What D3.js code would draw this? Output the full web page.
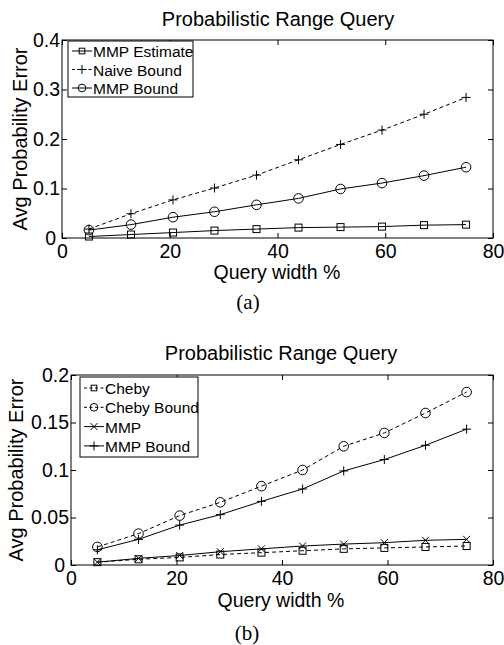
<!DOCTYPE html>
<html>
<head>
<meta charset="utf-8">
<script src="https://cdn.jsdelivr.net/npm/d3@7"></script>
<style>
  body { margin: 0; background: #fff; }
  svg text { fill: #000; }
</style>
</head>
<body>
<svg id="chart" width="504" height="645"></svg>
<script>
const SVG = d3.select('#chart');
const SANS = '"Liberation Sans", Arial, Helvetica, sans-serif';
const SERIF = '"Liberation Serif", "Times New Roman", serif';

// DATA
const queryWidth = [5, 12.8, 20.6, 28.3, 36.1, 43.9, 51.7, 59.4, 67.2, 75];

const mmpEstimate = [0.003, 0.007, 0.011, 0.015, 0.018, 0.021, 0.022, 0.023, 0.026, 0.027];
const naiveBound = [0.018, 0.049, 0.077, 0.101, 0.127, 0.158, 0.189, 0.218, 0.250, 0.284];
const mmpBound = [0.016, 0.027, 0.042, 0.053, 0.067, 0.080, 0.099, 0.111, 0.126, 0.143];

const cheby = [0.003, 0.006, 0.008, 0.011, 0.013, 0.015, 0.017, 0.018, 0.019, 0.020];
const chebyBound = [0.019, 0.033, 0.052, 0.066, 0.083, 0.100, 0.125, 0.139, 0.160, 0.182];
const mmp = [0.003, 0.007, 0.010, 0.014, 0.017, 0.020, 0.022, 0.0235, 0.026, 0.027];

const xTicks = [0, 20, 40, 60, 80];
const yTicksA = [0, 0.1, 0.2, 0.3, 0.4];
const yTicksB = [0, 0.05, 0.1, 0.15, 0.2];

const TITLE = 'Probabilistic Range Query';
const X_LABEL = 'Query width %';
const Y_LABEL = 'Avg Probability Error';

// FUNCTIONS

function drawMarker(g, type, x, y, s = 1) {
  if (type === 'square') {
    g.append('rect').attr('x', x - 3.5 * s).attr('y', y - 3.5 * s).attr('width', 7 * s).attr('height', 7 * s)
      .attr('fill', 'none').attr('stroke', '#000');
  } else if (type === 'circle') {
    g.append('circle').attr('cx', x).attr('cy', y).attr('r', 4.8 * s)
      .attr('fill', 'none').attr('stroke', '#000');
  } else if (type === 'plus') {
    g.append('path').attr('d', `M${x - 4.5},${y}H${x + 4.5}M${x},${y - 4.5}V${y + 4.5}`)
      .attr('stroke', '#000');
  } else if (type === 'cross') {
    g.append('path').attr('d', `M${x - 3.5},${y - 3.5}L${x + 3.5},${y + 3.5}M${x - 3.5},${y + 3.5}L${x + 3.5},${y - 3.5}`)
      .attr('stroke', '#000');
  }
}

function drawPanel(p) {
  const g = SVG.append('g');
  const x = d3.scaleLinear().domain([0, 80]).range([p.left, p.right]);
  const y = d3.scaleLinear().domain(p.yDomain).range([p.bottom, p.top]);

  g.append('text').attr('x', p.titleX).attr('y', p.titleY)
    .attr('text-anchor', 'middle').style('font-family', SANS).style('font-size', '20px').text(TITLE);

  // axes with inward ticks
  g.append('g').attr('transform', `translate(0,${p.bottom})`)
    .call(d3.axisBottom(x).tickValues(xTicks).tickFormat(d3.format('d'))
      .tickSizeInner(-5).tickSizeOuter(0).tickPadding(6));
  const yAxis = g.append('g').attr('transform', `translate(${p.left},0)`)
    .call(d3.axisLeft(y).tickValues(p.yTicks).tickFormat(d => d === 0 ? '0' : String(d))
      .tickSizeInner(-5).tickSizeOuter(0).tickPadding(2));
  g.append('g').attr('transform', `translate(0,${p.top})`)
    .call(d3.axisTop(x).tickValues(xTicks).tickFormat('').tickSizeInner(-5).tickSizeOuter(0));
  g.append('g').attr('transform', `translate(${p.right},0)`)
    .call(d3.axisRight(y).tickValues(p.yTicks).tickFormat('').tickSizeInner(-5).tickSizeOuter(0));

  g.selectAll('.domain').remove();
  g.selectAll('.tick line').attr('stroke', '#000');
  g.selectAll('.tick text').style('font-size', '19.5px').style('font-family', SANS);
  // keep the corner zeros apart
  yAxis.selectAll('.tick text').filter(d => d === 0).attr('dx', -4);

  g.append('rect').attr('x', p.left).attr('y', p.top)
    .attr('width', p.right - p.left).attr('height', p.bottom - p.top)
    .attr('fill', 'none').attr('stroke', '#000');

  g.append('text').attr('x', p.xLabelX).attr('y', p.xLabelY)
    .attr('text-anchor', 'middle').style('font-family', SANS).style('font-size', '19.5px').text(X_LABEL);
  g.append('text')
    .attr('transform', `translate(${p.yLabelX},${(p.top + p.bottom) / 2}) rotate(-90)`)
    .attr('text-anchor', 'middle').style('font-family', SANS).style('font-size', '20px').text(Y_LABEL);

  // series
  const line = d3.line().x((d, i) => x(queryWidth[i])).y(d => y(d));
  p.series.forEach(s => {
    g.append('path').datum(s.values).attr('d', line)
      .attr('fill', 'none').attr('stroke', '#000').attr('stroke-width', 1)
      .attr('stroke-dasharray', s.dashed ? '4,3' : null);
    s.values.forEach((v, i) => drawMarker(g, s.marker, x(queryWidth[i]), y(v)));
  });

  // legend
  const lg = g.append('g');
  lg.append('rect').attr('x', p.legend.x).attr('y', p.legend.y)
    .attr('width', p.legend.w).attr('height', p.legend.h)
    .attr('fill', '#fff').attr('stroke', '#000');
  p.series.forEach((s, i) => {
    const cy = p.legend.y + p.legend.first + i * p.legend.step;
    const x0 = p.legend.x + 4;
    lg.append('line').attr('x1', x0).attr('x2', x0 + 20).attr('y1', cy).attr('y2', cy)
      .attr('stroke', '#000').attr('stroke-dasharray', s.dashed ? '3,2.5' : null);
    drawMarker(lg, s.marker, x0 + 10, cy, 0.8);
    lg.append('text').attr('x', x0 + 21).attr('y', cy + 6)
      .style('font-family', SANS).style('font-size', '15.5px').text(s.name);
  });

  g.append('text').attr('x', p.captionX).attr('y', p.captionY)
    .attr('text-anchor', 'middle').style('font-family', SERIF).style('font-size', '21px').text(p.caption);
}

drawPanel({
  left: 62, right: 493, top: 40, bottom: 238,
  yDomain: [0, 0.4], yTicks: yTicksA, yLabelX: 27,
  titleX: 278, titleY: 26, xLabelX: 277, xLabelY: 279,
  legend: { x: 68, y: 41, w: 125, h: 56, first: 10, step: 18.5 },
  caption: '(a)', captionX: 248, captionY: 309,
  series: [
    { name: 'MMP Estimate', values: mmpEstimate, marker: 'square', dashed: false },
    { name: 'Naive Bound', values: naiveBound, marker: 'plus', dashed: true },
    { name: 'MMP Bound', values: mmpBound, marker: 'circle', dashed: false }
  ]
});

drawPanel({
  left: 71, right: 493, top: 375, bottom: 565,
  yDomain: [0, 0.2], yTicks: yTicksB, yLabelX: 23,
  titleX: 281, titleY: 360, xLabelX: 281, xLabelY: 607,
  legend: { x: 80, y: 377, w: 118, h: 80, first: 11, step: 19.3 },
  caption: '(b)', captionX: 247, captionY: 640,
  series: [
    { name: 'Cheby', values: cheby, marker: 'square', dashed: true },
    { name: 'Cheby Bound', values: chebyBound, marker: 'circle', dashed: true },
    { name: 'MMP', values: mmp, marker: 'cross', dashed: false },
    { name: 'MMP Bound', values: mmpBound, marker: 'plus', dashed: false }
  ]
});
</script>
</body>
</html>
